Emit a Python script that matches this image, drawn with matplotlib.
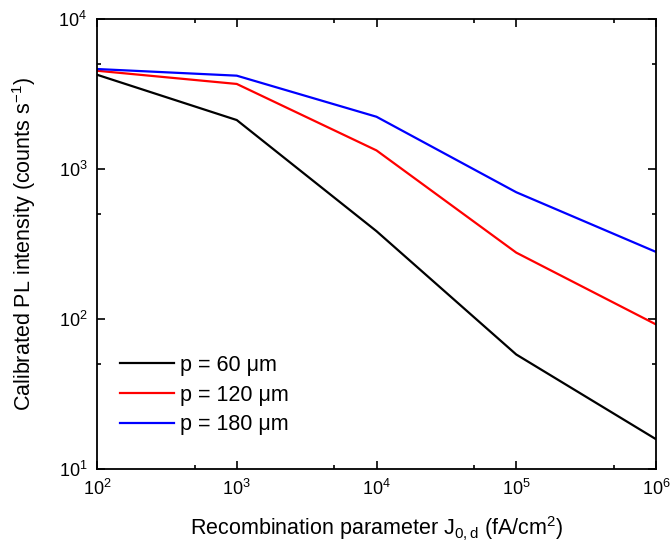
import math
import matplotlib
matplotlib.use("Agg")
import matplotlib.pyplot as plt
from matplotlib.ticker import LogLocator, FuncFormatter, NullFormatter

plt.rcParams['font.family'] = ['Liberation Sans', 'DejaVu Sans']
plt.rcParams['mathtext.fontset'] = 'custom'
plt.rcParams['mathtext.rm'] = 'Liberation Sans'
plt.rcParams['mathtext.it'] = 'Liberation Sans:italic'
plt.rcParams['mathtext.default'] = 'regular'

j0d = [1e2, 1e3, 1e4, 1e5, 1e6]
pl_60 = [4250, 2120, 385, 58, 15.8]
pl_120 = [4520, 3690, 1330, 277, 92]
pl_180 = [4640, 4190, 2230, 700, 280]
labels = ["p = 60 \u03bcm", "p = 120 \u03bcm", "p = 180 \u03bcm"]
colors = ["#000000", "#ff0000", "#0000ff"]

fig = plt.figure(figsize=(6.7, 5.47), dpi=100)
ax = fig.add_axes([97/670, 1-469/547, (656-97)/670, (469-19)/547])

for y, lab, c in zip([pl_60, pl_120, pl_180], labels, colors):
    ax.plot(j0d, y, color=c, lw=1.6, label=lab)

ax.set_xscale('log')
ax.set_yscale('log')
ax.set_xlim(1e2, 1e6)
ax.set_ylim(1e1, 1e4)

for axis in (ax.xaxis, ax.yaxis):
    axis.set_major_locator(LogLocator(base=10, numticks=10))
    axis.set_minor_locator(LogLocator(base=10, subs=[5.0], numticks=10))
    axis.set_major_formatter(FuncFormatter(lambda v, p: r'$10^{%d}$' % round(math.log10(v))))
    axis.set_minor_formatter(NullFormatter())

ax.tick_params(which='both', direction='in', top=True, right=True, width=1.2, labelsize=13)
ax.tick_params(which='major', length=6)
ax.tick_params(which='minor', length=3)
ax.tick_params(axis='x', pad=7)
ax.tick_params(axis='y', pad=7)
for s in ax.spines.values():
    s.set_linewidth(1.3)

ax.set_xlabel(r'Recombination parameter J$_{0,d}$ (fA/cm$^2$)', fontsize=15.5, labelpad=11)
ax.set_ylabel(r'Calibrated PL intensity (counts s$^{-1}$)', fontsize=15.5, labelpad=15)

ax.legend(loc='lower left', frameon=False, fontsize=15.5, handlelength=2.5,
          handletextpad=0.3, labelspacing=0.4, borderaxespad=0.0,
          bbox_to_anchor=(0.026, 0.056))

fig.savefig("out.png", dpi=100)
